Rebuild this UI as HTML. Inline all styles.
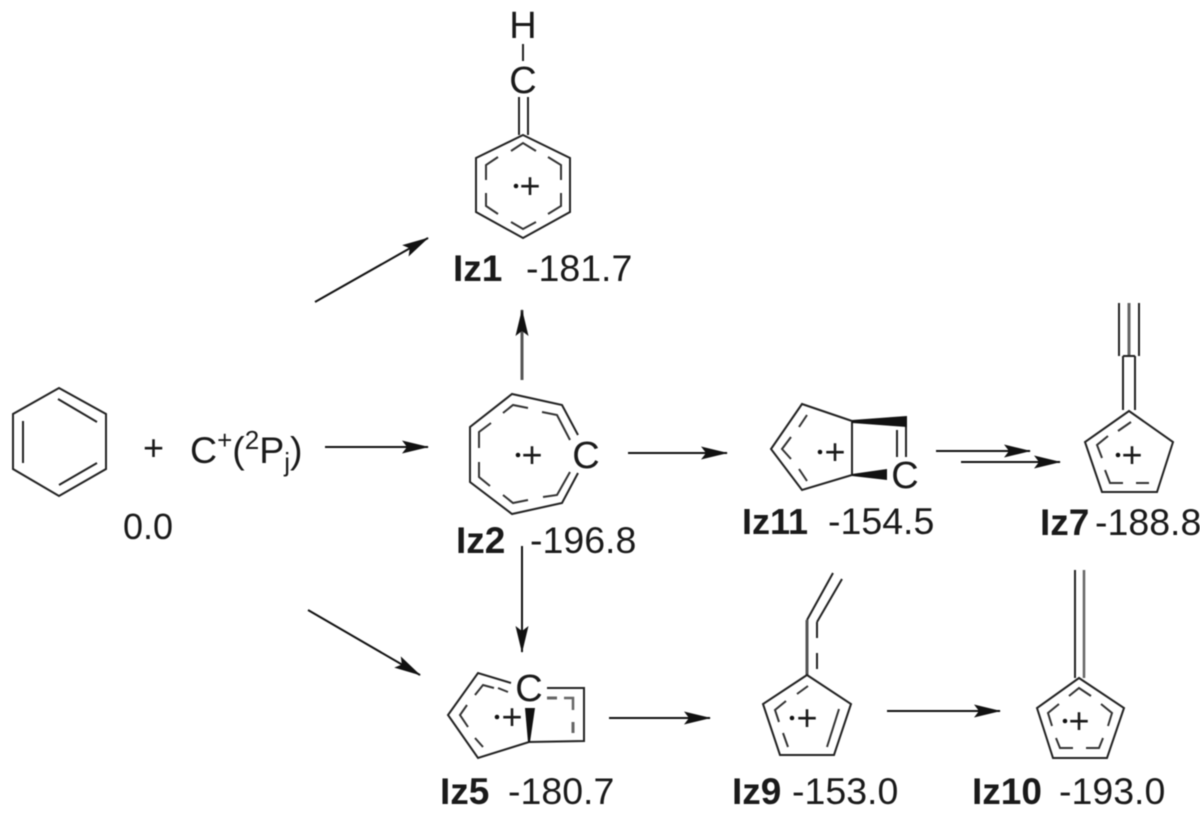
<!DOCTYPE html>
<html><head><meta charset="utf-8"><style>
html,body{margin:0;padding:0;background:#fff;width:1200px;height:819px;overflow:hidden}
svg{display:block;filter:blur(.5px)}
text{font-family:"Liberation Sans",Arial,sans-serif;fill:#1a1a1a;font-size:37.5px}
.b{font-weight:bold;font-size:37px}
.p{font-size:36px;text-anchor:middle}
.a{text-anchor:middle;font-size:38px}
.s path,.s polyline,.s polygon,.s line{fill:none;stroke:#222;stroke-width:2}
.i polyline,.i line{fill:none;stroke:#333;stroke-width:2}
.k line{stroke:#111;stroke-width:2;marker-end:url(#h)}
</style></head><body>
<svg width="1200" height="819" viewBox="0 0 1200 819" xmlns="http://www.w3.org/2000/svg">
<defs><marker id="h" markerUnits="userSpaceOnUse" markerWidth="30" markerHeight="16" refX="26" refY="8" orient="auto"><path d="M0,1.5 L27,8 L0,14.5 L5,8 z" fill="#111"/></marker></defs>
<rect width="1200" height="819" fill="#fff"/>

<!-- benzene -->
<g class="s"><polygon points="59,388 106,414 106,469 59,496 13,469 13,414"/>
<line x1="58" y1="399" x2="97" y2="422"/><line x1="97" y1="463" x2="59" y2="485"/><line x1="23" y1="421" x2="23" y2="463"/></g>
<text x="143" y="460" style="font-size:36px">+</text>
<text x="190" y="463">C<tspan dy="-14" style="font-size:26px">+</tspan><tspan dy="14">(</tspan><tspan dy="-14" style="font-size:26px">2</tspan><tspan dy="14">P</tspan><tspan dy="8" style="font-size:26px">j</tspan><tspan dy="-8">)</tspan></text>
<text x="123" y="539" style="font-size:36px">0.0</text>

<!-- Iz1 -->
<text class="a" x="523" y="38">H</text><text class="a" x="523" y="93">C</text>
<g class="s"><line x1="523" y1="44" x2="523" y2="61"/><line x1="519" y1="97" x2="519" y2="135"/><line x1="528" y1="97" x2="528" y2="135"/>
<polygon points="523,135 570,158 570,212 523,238 476,212 476,158"/></g>
<g class="i"><polyline points="511,151 523,143 536,151"/><polyline points="548,157 561,165 561,180"/><polyline points="561,193 561,206 548,214"/><polyline points="536,222 523,229 511,222"/><polyline points="498,214 486,206 486,193"/><polyline points="486,180 486,165 498,157"/></g>
<circle cx="516" cy="186" r="2.3" fill="#111"/><text class="p" x="530" y="198">+</text>
<text class="b" x="453" y="281">Iz1</text><text x="526" y="281">-181.7</text>

<!-- Iz2 -->
<g class="s"><polyline points="578,435 562,405 512,394 470,427 470,482 512,514 562,503 578,473"/></g>
<g class="i"><polyline points="503,413 513,405 528,408"/><polyline points="542,412 557,415 570,440"/><polyline points="570,472 557,495 543,497"/><polyline points="528,500 513,503 503,495"/><polyline points="490,486 479,477 479,462"/><polyline points="479,448 479,432 491,423"/></g>
<text class="a" x="586" y="468">C</text>
<circle cx="518" cy="455" r="2.3" fill="#111"/><text class="p" x="532" y="467">+</text>
<text class="b" x="456" y="553">Iz2</text><text x="530" y="553">-196.8</text>

<!-- Iz11 -->
<g class="s"><polyline points="852,421 802,404 771,449 802,490 852,475 852,421"/><line x1="906" y1="426" x2="906" y2="457"/><line x1="897" y1="430" x2="897" y2="457"/></g>
<polygon points="852,420 907,416 907,427 852,423" fill="#111"/><polygon points="852,474 887,469 887,480 852,476" fill="#111"/>
<g class="i"><line x1="799" y1="427" x2="807" y2="415"/><polyline points="791,437 782,449 791,459"/><line x1="799" y1="469" x2="807" y2="481"/></g>
<text class="a" x="905" y="488">C</text>
<circle cx="820" cy="452" r="2.3" fill="#111"/><text class="p" x="835" y="464">+</text>
<text class="b" x="742" y="534" style="font-size:36px">Iz11</text><text x="828" y="534">-154.5</text>

<!-- Iz7 -->
<g class="s"><line x1="1119" y1="303" x2="1119" y2="356"/><line x1="1129" y1="303" x2="1129" y2="356" style="stroke-width:3;stroke:#666"/><line x1="1139" y1="303" x2="1139" y2="356"/><polyline points="1123,356 1135,356"/><line x1="1123" y1="356" x2="1123" y2="410"/><line x1="1135" y1="356" x2="1135" y2="410"/>
<polygon points="1129,411 1173,442 1157,492 1102,492 1085,442"/></g>
<g class="i"><line x1="1118" y1="431" x2="1131" y2="422"/><polyline points="1108,436 1097,445 1102,458"/><polyline points="1105,470 1110,483 1123,483"/><line x1="1136" y1="483" x2="1149" y2="483"/></g>
<circle cx="1118" cy="455" r="2.3" fill="#111"/><text class="p" x="1132" y="467">+</text>
<text class="b" x="1040" y="535">Iz7</text><text x="1095" y="535">-188.8</text>

<!-- Iz5 -->
<g class="s"><polyline points="511,683 478,673 448,715 478,758 529,742 584,741 584,688 547,688"/></g>
<polygon points="525,708 535,708 530,742 528,742" fill="#111"/>
<g class="i"><polyline points="475,695 483,685 494,688"/><line x1="498" y1="688" x2="508" y2="692"/><polyline points="467,705 460,715 468,727"/><line x1="475" y1="738" x2="483" y2="747"/>
<line x1="547" y1="698" x2="557" y2="698" style="stroke:#666;stroke-width:3"/><polyline points="564,698 573,698 573,710" style="stroke:#666;stroke-width:2.5"/><line x1="573" y1="722" x2="573" y2="733" style="stroke:#666;stroke-width:3"/></g>
<text class="a" x="529" y="701">C</text>
<circle cx="497" cy="717" r="2.3" fill="#111"/><text class="p" x="512" y="729">+</text>
<text class="b" x="440" y="804">Iz5</text><text x="508" y="804">-180.7</text>

<!-- Iz9 -->
<g class="s"><line x1="807" y1="620" x2="833" y2="573"/><line x1="817" y1="622" x2="842" y2="579"/><line x1="807" y1="620" x2="807" y2="675" style="stroke-width:3;stroke:#555"/><line x1="817" y1="622" x2="817" y2="638"/><line x1="817" y1="653" x2="817" y2="669"/>
<polygon points="807,675 851,704 834,755 780,755 763,704"/></g>
<g class="i"><line x1="797" y1="694" x2="808" y2="686"/><polyline points="786,701 775,710 779,722"/><line x1="783" y1="733" x2="788" y2="747"/><line x1="827" y1="747" x2="839" y2="709"/></g>
<circle cx="792" cy="718" r="2.3" fill="#111"/><text class="p" x="807" y="730">+</text>
<text class="b" x="732" y="804">Iz9</text><text x="792" y="804">-153.0</text>

<!-- Iz10 -->
<g class="s"><line x1="1075" y1="570" x2="1075" y2="678"/><line x1="1084" y1="570" x2="1084" y2="678" style="stroke:#666;stroke-width:2.5"/>
<polygon points="1079,678 1124,708 1107,758 1053,758 1037,708"/></g>
<g class="i"><polyline points="1069,696 1079,688 1091,696"/><polyline points="1101,704 1112,713 1108,726"/><polyline points="1103,738 1099,748 1086,748"/><polyline points="1073,748 1060,748 1056,738"/><polyline points="1052,726 1048,713 1059,704"/></g>
<circle cx="1065" cy="721" r="2.3" fill="#111"/><text class="p" x="1079" y="733">+</text>
<text class="b" x="972" y="804">Iz10</text><text x="1059" y="804">-193.0</text>

<!-- arrows -->
<g class="k">
<line x1="315" y1="302" x2="428" y2="238"/>
<line x1="522" y1="380" x2="522" y2="310" style="stroke:#555;stroke-width:3"/>
<line x1="325" y1="447" x2="428" y2="447"/>
<line x1="308" y1="610" x2="420" y2="675"/>
<line x1="522" y1="546" x2="522" y2="652"/>
<line x1="628" y1="453" x2="727" y2="453"/>
<line x1="936" y1="451" x2="1030" y2="451"/>
<line x1="961" y1="462" x2="1060" y2="462"/>
<line x1="609" y1="718" x2="710" y2="718"/>
<line x1="887" y1="711" x2="1000" y2="711"/>
</g>
</svg>
</body></html>
